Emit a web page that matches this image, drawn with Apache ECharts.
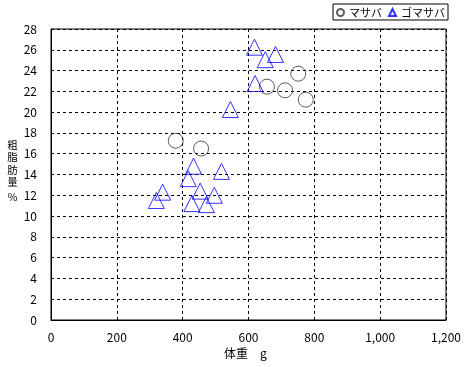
<!DOCTYPE html>
<html>
<head>
<meta charset="utf-8">
<script src="https://cdn.jsdelivr.net/npm/echarts@6/dist/echarts.min.js"></script>
<style>
html,body{margin:0;padding:0;background:#fff;}
#c{width:468px;height:367px;}
</style>
</head>
<body>
<div id="c"></div>
<script>
var seriesNames = ['マサバ', 'ゴマサバ'];
var masaba = [
  [751, 23.7], [656, 22.45], [711, 22.1], [774, 21.2], [379, 17.25], [456, 16.5]
];
var gomasaba = [
  [618, 26.25], [651, 25.05], [682, 25.55], [620, 22.75], [545, 20.25],
  [433, 14.8], [518, 14.3], [417, 13.6], [339, 12.3], [320, 11.5],
  [453, 12.4], [496, 12.0], [428, 11.2], [472, 11.1]
];
var xTicks = { min: 0, max: 1200, interval: 200 };
var yTicks = { min: 0, max: 28, interval: 2 };
var xName = '体重　g';
var yNameChars = ['粗', '脂', '肪', '量', '%'];

var font = '"Noto Sans CJK JP", "Noto Sans", sans-serif';
var chart = echarts.init(document.getElementById('c'));
chart.setOption({
  animation: false,
  backgroundColor: '#fff',
  textStyle: { fontFamily: font },
  grid: {
    left: 51, top: 29, width: 395, height: 291,
    show: true, borderColor: '#000', borderWidth: 1, backgroundColor: '#fff'
  },
  legend: {
    right: 20, top: 4,
    padding: [3, 3, 2, 3],
    borderColor: '#000', borderWidth: 1, borderRadius: 0,
    backgroundColor: '#fff',
    itemWidth: 7, itemHeight: 7, itemGap: 6,
    textStyle: { fontSize: 11, color: '#000', fontFamily: font },
    data: [
      { name: seriesNames[0], icon: 'circle' },
      { name: seriesNames[1], icon: 'triangle' }
    ]
  },
  xAxis: {
    type: 'value', min: xTicks.min, max: xTicks.max, interval: xTicks.interval,
    axisLine: { show: true, lineStyle: { color: '#000', width: 1 } },
    axisTick: { show: false },
    axisLabel: {
      color: '#000', fontSize: 12, margin: 11, fontFamily: font,
      formatter: function (v) { return v.toString().replace(/\B(?=(\d{3})+(?!\d))/g, ','); }
    },
    splitLine: { show: true, lineStyle: { color: '#000', type: [3, 3], width: 1 } },
    name: xName, nameLocation: 'middle', nameGap: 19,
    nameTextStyle: { color: '#000', fontSize: 12, fontFamily: font, padding: [0, 6, 0, 0] }
  },
  yAxis: {
    type: 'value', min: yTicks.min, max: yTicks.max, interval: yTicks.interval,
    axisLine: { show: true, lineStyle: { color: '#000', width: 1 } },
    axisTick: { show: false },
    axisLabel: { color: '#000', fontSize: 12, margin: 14, fontFamily: font },
    splitLine: { show: true, lineStyle: { color: '#000', type: [3, 3], width: 1 } }
  },
  graphic: yNameChars.map(function (ch, i) {
    return {
      type: 'text',
      x: 12.5, y: 145 + i * 12.5 + (i === 4 ? 2 : 0),
      style: {
        text: ch, fill: '#000', fontSize: 10.5,
        fontFamily: font, align: 'center', verticalAlign: 'middle'
      }
    };
  }),
  series: [
    {
      name: seriesNames[0], type: 'scatter', data: masaba,
      symbol: 'circle', symbolSize: 15,
      itemStyle: { color: 'rgba(255,255,255,0)', borderColor: '#333', borderWidth: 1 }
    },
    {
      name: seriesNames[1], type: 'scatter', data: gomasaba,
      symbol: 'triangle', symbolSize: 16,
      itemStyle: { color: 'rgba(255,255,255,0)', borderColor: '#0000ff', borderWidth: 1 }
    }
  ]
});
</script>
</body>
</html>
